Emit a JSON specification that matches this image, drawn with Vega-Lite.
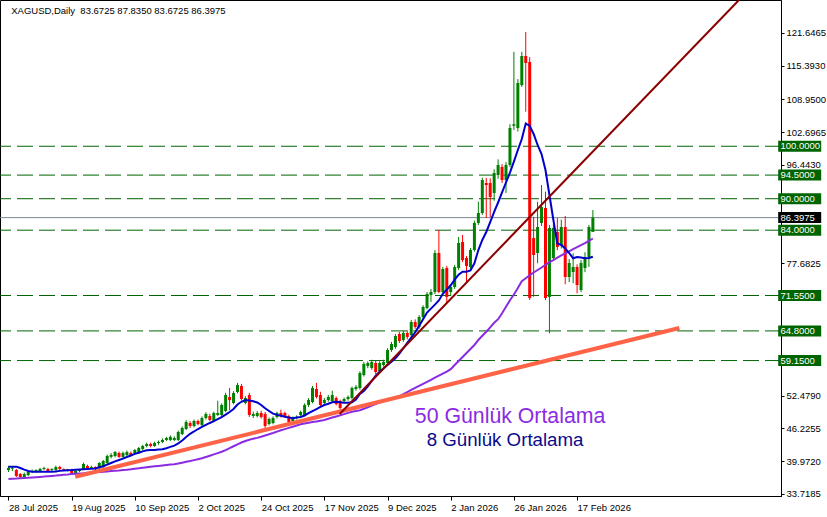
{
  "$schema": "https://vega.github.io/schema/vega-lite/v6.json",
  "width": 781,
  "height": 496,
  "autosize": "none",
  "padding": {"left": 0, "top": 0, "right": 46, "bottom": 21},
  "background": "white",
  "config": {"view": {"stroke": "#000", "strokeWidth": 1}, "font": "Liberation Sans"},
  "datasets": {
    "bars": [
      {"i":0,"o":38.29,"h":39.05,"l":37.91,"c":38.67,"m8":38.92,"m50":36.59},
      {"i":1,"o":38.48,"h":38.86,"l":38.10,"c":38.60,"m8":38.92,"m50":36.63},
      {"i":2,"o":38.29,"h":38.48,"l":36.95,"c":37.14,"m8":38.92,"m50":36.67},
      {"i":3,"o":37.52,"h":37.71,"l":36.57,"c":36.95,"m8":38.67,"m50":36.73},
      {"i":4,"o":36.95,"h":37.80,"l":36.60,"c":37.52,"m8":38.35,"m50":36.76},
      {"i":5,"o":37.33,"h":38.10,"l":37.10,"c":37.91,"m8":38.10,"m50":36.80},
      {"i":6,"o":37.91,"h":38.40,"l":37.70,"c":38.10,"m8":37.97,"m50":36.86},
      {"i":7,"o":38.05,"h":38.40,"l":37.80,"c":38.25,"m8":37.97,"m50":36.92},
      {"i":8,"o":38.10,"h":38.70,"l":37.90,"c":38.48,"m8":37.97,"m50":36.97},
      {"i":9,"o":38.48,"h":38.90,"l":38.30,"c":38.67,"m8":37.97,"m50":37.03},
      {"i":10,"o":38.48,"h":38.70,"l":37.90,"c":38.10,"m8":37.97,"m50":37.11},
      {"i":11,"o":38.30,"h":38.60,"l":38.10,"c":38.50,"m8":37.97,"m50":37.16},
      {"i":12,"o":38.29,"h":39.10,"l":38.10,"c":38.86,"m8":38.02,"m50":37.22},
      {"i":13,"o":38.86,"h":39.10,"l":38.30,"c":38.48,"m8":38.12,"m50":37.30},
      {"i":14,"o":38.45,"h":38.60,"l":38.10,"c":38.25,"m8":38.19,"m50":37.39},
      {"i":15,"o":38.20,"h":38.50,"l":38.00,"c":38.40,"m8":38.25,"m50":37.45},
      {"i":16,"o":38.29,"h":38.50,"l":37.50,"c":37.71,"m8":38.29,"m50":37.53},
      {"i":17,"o":37.52,"h":38.30,"l":37.30,"c":38.10,"m8":38.35,"m50":37.58},
      {"i":18,"o":38.10,"h":38.40,"l":37.90,"c":38.30,"m8":38.40,"m50":37.64},
      {"i":19,"o":38.48,"h":39.70,"l":38.30,"c":39.43,"m8":38.44,"m50":37.68},
      {"i":20,"o":39.05,"h":39.30,"l":38.50,"c":38.67,"m8":38.48,"m50":37.74},
      {"i":21,"o":38.67,"h":39.10,"l":38.50,"c":38.86,"m8":38.52,"m50":37.79},
      {"i":22,"o":38.86,"h":39.00,"l":38.30,"c":38.48,"m8":38.59,"m50":37.85},
      {"i":23,"o":38.67,"h":39.80,"l":38.50,"c":39.62,"m8":38.80,"m50":37.91},
      {"i":24,"o":38.86,"h":40.20,"l":38.70,"c":40.00,"m8":39.00,"m50":37.94},
      {"i":25,"o":39.62,"h":41.20,"l":39.40,"c":40.96,"m8":39.30,"m50":38.02},
      {"i":26,"o":40.80,"h":41.50,"l":40.50,"c":41.15,"m8":39.62,"m50":38.08},
      {"i":27,"o":40.96,"h":41.90,"l":40.70,"c":41.72,"m8":39.93,"m50":38.15},
      {"i":28,"o":41.53,"h":41.80,"l":40.60,"c":40.77,"m8":40.19,"m50":38.21},
      {"i":29,"o":40.77,"h":41.80,"l":40.50,"c":41.53,"m8":40.46,"m50":38.29},
      {"i":30,"o":41.15,"h":42.00,"l":40.90,"c":41.72,"m8":40.77,"m50":38.34},
      {"i":31,"o":41.53,"h":41.80,"l":40.90,"c":41.15,"m8":41.05,"m50":38.42},
      {"i":32,"o":41.53,"h":42.30,"l":41.30,"c":42.10,"m8":41.36,"m50":38.52},
      {"i":33,"o":41.72,"h":42.70,"l":41.50,"c":42.48,"m8":41.59,"m50":38.61},
      {"i":34,"o":42.29,"h":43.10,"l":42.00,"c":42.86,"m8":41.83,"m50":38.73},
      {"i":35,"o":42.86,"h":43.50,"l":42.60,"c":43.24,"m8":42.04,"m50":38.82},
      {"i":36,"o":43.24,"h":43.50,"l":42.60,"c":42.86,"m8":42.10,"m50":38.92},
      {"i":37,"o":42.86,"h":43.70,"l":42.70,"c":43.43,"m8":42.12,"m50":38.99},
      {"i":38,"o":43.43,"h":43.90,"l":43.10,"c":43.63,"m8":42.18,"m50":39.07},
      {"i":39,"o":43.63,"h":44.30,"l":43.40,"c":44.01,"m8":42.23,"m50":39.15},
      {"i":40,"o":44.01,"h":44.60,"l":43.80,"c":44.39,"m8":42.44,"m50":39.24},
      {"i":41,"o":44.00,"h":44.90,"l":43.80,"c":44.60,"m8":42.69,"m50":39.32},
      {"i":42,"o":44.00,"h":44.70,"l":43.80,"c":44.39,"m8":42.94,"m50":39.39},
      {"i":43,"o":44.01,"h":45.80,"l":43.80,"c":45.53,"m8":43.34,"m50":39.51},
      {"i":44,"o":45.15,"h":46.60,"l":44.90,"c":46.29,"m8":43.91,"m50":39.68},
      {"i":45,"o":46.10,"h":47.80,"l":45.90,"c":47.44,"m8":44.58,"m50":39.85},
      {"i":46,"o":47.25,"h":47.60,"l":46.30,"c":46.67,"m8":45.19,"m50":40.00},
      {"i":47,"o":46.67,"h":47.90,"l":46.40,"c":47.63,"m8":45.63,"m50":40.17},
      {"i":48,"o":47.63,"h":47.90,"l":46.80,"c":47.06,"m8":46.10,"m50":40.35},
      {"i":49,"o":46.87,"h":48.50,"l":46.60,"c":48.20,"m8":46.49,"m50":40.52},
      {"i":50,"o":48.20,"h":49.30,"l":47.90,"c":48.96,"m8":46.87,"m50":40.77},
      {"i":51,"o":48.58,"h":49.00,"l":47.60,"c":47.82,"m8":47.25,"m50":41.01},
      {"i":52,"o":47.63,"h":49.40,"l":47.40,"c":49.15,"m8":47.59,"m50":41.26},
      {"i":53,"o":48.77,"h":51.50,"l":48.60,"c":49.15,"m8":47.97,"m50":41.51},
      {"i":54,"o":48.77,"h":51.00,"l":48.50,"c":50.68,"m8":48.35,"m50":41.76},
      {"i":55,"o":49.53,"h":53.00,"l":49.30,"c":52.58,"m8":48.83,"m50":42.08},
      {"i":56,"o":52.20,"h":53.92,"l":49.70,"c":51.60,"m8":49.34,"m50":42.44},
      {"i":57,"o":51.06,"h":53.30,"l":50.80,"c":52.96,"m8":49.91,"m50":42.81},
      {"i":58,"o":53.16,"h":54.90,"l":52.90,"c":54.49,"m8":50.77,"m50":43.17},
      {"i":59,"o":54.30,"h":54.70,"l":51.50,"c":51.82,"m8":51.29,"m50":43.53},
      {"i":60,"o":51.06,"h":52.40,"l":50.80,"c":52.01,"m8":51.63,"m50":43.82},
      {"i":61,"o":52.58,"h":53.00,"l":48.40,"c":48.77,"m8":51.52,"m50":44.04},
      {"i":62,"o":48.58,"h":49.40,"l":48.20,"c":48.96,"m8":51.38,"m50":44.26},
      {"i":63,"o":48.58,"h":49.50,"l":48.30,"c":49.15,"m8":51.15,"m50":44.41},
      {"i":64,"o":49.15,"h":49.60,"l":48.10,"c":48.39,"m8":50.68,"m50":44.62},
      {"i":65,"o":48.96,"h":49.34,"l":46.29,"c":46.67,"m8":50.05,"m50":44.87},
      {"i":66,"o":47.06,"h":48.30,"l":46.80,"c":48.01,"m8":49.53,"m50":45.09},
      {"i":67,"o":47.25,"h":48.50,"l":47.00,"c":48.20,"m8":49.02,"m50":45.34},
      {"i":68,"o":48.39,"h":49.40,"l":48.10,"c":49.15,"m8":48.79,"m50":45.61},
      {"i":69,"o":49.15,"h":49.80,"l":48.30,"c":48.58,"m8":48.62,"m50":45.86},
      {"i":70,"o":49.15,"h":49.40,"l":48.30,"c":48.58,"m8":48.43,"m50":46.08},
      {"i":71,"o":48.58,"h":48.80,"l":47.20,"c":47.44,"m8":48.27,"m50":46.31},
      {"i":72,"o":47.63,"h":48.50,"l":47.30,"c":48.20,"m8":48.16,"m50":46.54},
      {"i":73,"o":48.20,"h":48.70,"l":47.90,"c":48.39,"m8":48.29,"m50":46.77},
      {"i":74,"o":48.77,"h":49.60,"l":48.50,"c":49.34,"m8":48.39,"m50":47.00},
      {"i":75,"o":48.77,"h":51.00,"l":48.50,"c":50.68,"m8":48.68,"m50":47.15},
      {"i":76,"o":50.68,"h":52.00,"l":50.30,"c":51.63,"m8":49.11,"m50":47.29},
      {"i":77,"o":51.25,"h":54.30,"l":51.00,"c":53.92,"m8":49.53,"m50":47.42},
      {"i":78,"o":53.73,"h":54.90,"l":51.90,"c":52.20,"m8":49.91,"m50":47.55},
      {"i":79,"o":52.58,"h":53.20,"l":50.30,"c":50.68,"m8":50.30,"m50":47.69},
      {"i":80,"o":51.06,"h":52.00,"l":50.80,"c":51.63,"m8":50.68,"m50":47.82},
      {"i":81,"o":51.63,"h":52.60,"l":51.30,"c":52.20,"m8":50.92,"m50":48.05},
      {"i":82,"o":51.44,"h":53.40,"l":51.20,"c":52.58,"m8":51.21,"m50":48.28},
      {"i":83,"o":52.01,"h":52.30,"l":50.60,"c":50.87,"m8":51.29,"m50":48.50},
      {"i":84,"o":51.44,"h":51.70,"l":49.80,"c":50.11,"m8":51.19,"m50":48.71},
      {"i":85,"o":51.44,"h":52.10,"l":51.10,"c":51.82,"m8":51.12,"m50":48.94},
      {"i":86,"o":51.82,"h":52.50,"l":51.50,"c":52.20,"m8":51.12,"m50":49.17},
      {"i":87,"o":52.01,"h":54.20,"l":51.70,"c":53.92,"m8":51.21,"m50":49.38},
      {"i":88,"o":53.73,"h":54.50,"l":53.40,"c":54.11,"m8":51.73,"m50":49.53},
      {"i":89,"o":53.92,"h":57.10,"l":53.60,"c":56.78,"m8":52.77,"m50":49.69},
      {"i":90,"o":56.40,"h":58.90,"l":56.10,"c":58.49,"m8":53.35,"m50":49.95},
      {"i":91,"o":58.11,"h":59.00,"l":57.70,"c":58.68,"m8":54.24,"m50":50.24},
      {"i":92,"o":57.73,"h":59.30,"l":57.40,"c":58.87,"m8":55.25,"m50":50.55},
      {"i":93,"o":58.68,"h":59.10,"l":56.60,"c":56.97,"m8":56.26,"m50":50.85},
      {"i":94,"o":57.16,"h":59.00,"l":56.90,"c":58.68,"m8":57.03,"m50":51.14},
      {"i":95,"o":58.30,"h":59.30,"l":58.00,"c":58.87,"m8":57.67,"m50":51.42},
      {"i":96,"o":58.68,"h":61.50,"l":58.40,"c":61.16,"m8":58.30,"m50":51.69},
      {"i":97,"o":61.16,"h":62.70,"l":60.80,"c":62.31,"m8":58.93,"m50":51.92},
      {"i":98,"o":61.73,"h":64.20,"l":61.40,"c":63.83,"m8":59.56,"m50":52.15},
      {"i":99,"o":64.21,"h":64.60,"l":62.50,"c":62.88,"m8":60.48,"m50":52.34},
      {"i":100,"o":63.07,"h":64.80,"l":62.70,"c":64.40,"m8":61.50,"m50":52.74},
      {"i":101,"o":64.40,"h":64.90,"l":63.20,"c":63.64,"m8":62.52,"m50":53.14},
      {"i":102,"o":64.02,"h":66.90,"l":63.70,"c":66.50,"m8":63.53,"m50":53.54},
      {"i":103,"o":66.50,"h":67.00,"l":65.20,"c":65.55,"m8":64.54,"m50":53.94},
      {"i":104,"o":65.55,"h":67.80,"l":65.20,"c":67.45,"m8":65.76,"m50":54.34},
      {"i":105,"o":67.45,"h":69.70,"l":67.10,"c":69.36,"m8":67.02,"m50":54.72},
      {"i":106,"o":69.17,"h":72.20,"l":68.90,"c":71.84,"m8":68.29,"m50":55.10},
      {"i":107,"o":71.65,"h":72.80,"l":70.30,"c":72.22,"m8":69.05,"m50":55.48},
      {"i":108,"o":72.22,"h":80.20,"l":71.80,"c":79.65,"m8":69.82,"m50":55.88},
      {"i":109,"o":79.65,"h":84.04,"l":72.00,"c":72.22,"m8":70.60,"m50":56.26},
      {"i":110,"o":72.22,"h":77.00,"l":71.50,"c":76.60,"m8":71.88,"m50":56.66},
      {"i":111,"o":76.79,"h":77.20,"l":70.06,"c":71.27,"m8":72.68,"m50":57.04},
      {"i":112,"o":72.22,"h":73.60,"l":71.60,"c":73.17,"m8":73.50,"m50":57.52},
      {"i":113,"o":73.17,"h":77.40,"l":72.80,"c":76.98,"m8":74.56,"m50":58.30},
      {"i":114,"o":76.79,"h":82.70,"l":76.40,"c":81.56,"m8":75.52,"m50":59.07},
      {"i":115,"o":81.75,"h":83.08,"l":77.90,"c":78.32,"m8":76.09,"m50":59.83},
      {"i":116,"o":78.70,"h":79.10,"l":73.90,"c":77.18,"m8":76.09,"m50":60.59},
      {"i":117,"o":76.98,"h":80.60,"l":76.60,"c":80.22,"m8":76.32,"m50":61.35},
      {"i":118,"o":80.22,"h":85.80,"l":79.90,"c":85.37,"m8":77.69,"m50":62.12},
      {"i":119,"o":85.37,"h":89.43,"l":85.00,"c":87.28,"m8":80.22,"m50":63.07},
      {"i":120,"o":87.28,"h":94.00,"l":86.90,"c":93.57,"m8":82.13,"m50":63.87},
      {"i":121,"o":93.00,"h":93.95,"l":86.33,"c":92.60,"m8":83.66,"m50":64.65},
      {"i":122,"o":93.00,"h":93.90,"l":86.50,"c":90.33,"m8":85.56,"m50":65.47},
      {"i":123,"o":91.09,"h":95.60,"l":89.60,"c":94.90,"m8":87.47,"m50":66.35},
      {"i":124,"o":94.52,"h":97.50,"l":93.80,"c":96.43,"m8":89.28,"m50":67.03},
      {"i":125,"o":96.05,"h":96.60,"l":93.00,"c":93.57,"m8":91.19,"m50":68.18},
      {"i":126,"o":93.57,"h":97.00,"l":91.10,"c":96.43,"m8":93.09,"m50":69.40},
      {"i":127,"o":96.43,"h":104.20,"l":96.00,"c":103.48,"m8":94.99,"m50":70.66},
      {"i":128,"o":103.90,"h":118.00,"l":103.10,"c":104.20,"m8":97.08,"m50":71.74},
      {"i":129,"o":103.48,"h":112.80,"l":102.80,"c":112.06,"m8":99.29,"m50":72.98},
      {"i":130,"o":111.68,"h":118.00,"l":111.30,"c":117.21,"m8":101.38,"m50":74.28},
      {"i":131,"o":117.21,"h":121.78,"l":106.59,"c":115.87,"m8":104.34,"m50":74.83},
      {"i":132,"o":116.06,"h":117.00,"l":70.69,"c":71.08,"m8":103.86,"m50":75.40},
      {"i":133,"o":82.51,"h":86.57,"l":71.32,"c":79.27,"m8":102.34,"m50":75.94},
      {"i":134,"o":79.65,"h":89.43,"l":77.69,"c":84.61,"m8":100.24,"m50":76.41},
      {"i":135,"o":85.37,"h":92.60,"l":84.80,"c":88.42,"m8":98.52,"m50":76.89},
      {"i":136,"o":88.23,"h":91.34,"l":70.69,"c":71.08,"m8":95.47,"m50":77.40},
      {"i":137,"o":71.27,"h":85.00,"l":64.35,"c":84.42,"m8":90.71,"m50":77.90},
      {"i":138,"o":78.70,"h":85.10,"l":78.20,"c":84.42,"m8":85.94,"m50":78.30},
      {"i":139,"o":83.66,"h":86.30,"l":80.20,"c":80.80,"m8":81.46,"m50":78.78},
      {"i":140,"o":81.18,"h":86.00,"l":80.50,"c":84.61,"m8":81.18,"m50":79.18},
      {"i":141,"o":84.61,"h":86.70,"l":73.70,"c":75.08,"m8":80.51,"m50":79.58},
      {"i":142,"o":75.08,"h":78.50,"l":74.10,"c":77.75,"m8":79.65,"m50":79.98},
      {"i":143,"o":76.03,"h":79.60,"l":73.90,"c":76.98,"m8":78.64,"m50":80.38},
      {"i":144,"o":76.98,"h":77.50,"l":71.97,"c":73.55,"m8":78.89,"m50":80.76},
      {"i":145,"o":72.60,"h":78.30,"l":72.20,"c":77.75,"m8":78.80,"m50":81.16},
      {"i":146,"o":76.79,"h":79.80,"l":76.00,"c":78.89,"m8":78.64,"m50":81.52},
      {"i":147,"o":78.89,"h":85.00,"l":77.00,"c":84.61,"m8":78.70,"m50":81.96},
      {"i":148,"o":83.6725,"h":87.835,"l":83.6725,"c":86.3975,"m8":78.95,"m50":82.42}
    ],
    "levels": [{"v":100},{"v":94.5},{"v":90},{"v":84},{"v":71.55},{"v":64.8},{"v":59.15}],
    "last": [{"v":86.3975}],
    "orange": [{"i":16.9,"p":37.01},{"i":169.9,"p":65.36}],
    "brown": [{"i":83.9,"p":48.96},{"i":185.0,"p":127.88}],
    "notes": [{"t":"50 Günlük Ortalama","i":102.9,"p":47.25},{"t":"8 Günlük Ortalama","i":105.9,"p":42.86}],
    "header": [{"t":"XAGUSD,Daily\u00a0 83.6725 87.8350 83.6725 86.3975","i":0.7,"p":125.21}]
  },
  "layer": [
    {
      "data": {"name": "levels"},
      "mark": {"type": "rule", "color": "#006400", "strokeWidth": 1, "strokeDash": [16, 6]},
      "encoding": {
        "y": {"field": "v", "type": "quantitative", "scale": {"domain": [33.33, 127.88], "nice": false, "zero": false},
              "axis": {"orient": "right", "values": [33.7185,39.972,46.2255,52.479,77.6825,96.443,102.6965,108.95,115.393,121.6465],
                       "format": ".4f", "labelFont": "Liberation Sans", "labelFontSize": 9.5, "labelColor": "#000",
                       "tickColor": "#000", "tickSize": 3, "domainColor": "#000", "grid": false, "title": null,
                       "labelPadding": 2, "labelFlush": false, "labelOverlap": false, "labelBound": false}}
      }
    },
    {
      "data": {"name": "last"},
      "mark": {"type": "rule", "color": "#778899", "strokeWidth": 1},
      "encoding": {
        "y": {"field": "v", "type": "quantitative", "scale": {"domain": [33.33, 127.88], "nice": false, "zero": false}}
      }
    },
    {
      "data": {"name": "bars"},
      "mark": {"type": "rule", "strokeWidth": 1},
      "encoding": {
        "x": {"field": "i", "type": "quantitative", "scale": {"domain": [-0.875, 194.375], "nice": false, "zero": false},
              "axis": {"orient": "bottom", "values": [0,16,32,48,64,80,96,112,128,144],
                       "labelExpr": "['28 Jul 2025','19 Aug 2025','10 Sep 2025','2 Oct 2025','24 Oct 2025','17 Nov 2025','9 Dec 2025','2 Jan 2026','26 Jan 2026','17 Feb 2026'][round(datum.value/16)]",
                       "labelAlign": "left", "labelFont": "Liberation Sans", "labelFontSize": 9.5, "labelColor": "#000",
                       "tickColor": "#000", "tickSize": 4, "domainColor": "#000", "grid": false, "title": null,
                       "labelPadding": 2, "labelFlush": false, "labelOverlap": false, "labelBound": false}},
        "y": {"field": "l", "type": "quantitative", "scale": {"domain": [33.33, 127.88], "nice": false, "zero": false}},
        "y2": {"field": "h"},
        "color": {"condition": {"test": "datum.c >= datum.o", "value": "#008000"}, "value": "#FF0000"}
      }
    },
    {
      "data": {"name": "bars"},
      "mark": {"type": "bar", "size": 3},
      "encoding": {
        "x": {"field": "i", "type": "quantitative", "scale": {"domain": [-0.875, 194.375], "nice": false, "zero": false}},
        "y": {"field": "o", "type": "quantitative", "scale": {"domain": [33.33, 127.88], "nice": false, "zero": false}},
        "y2": {"field": "c"},
        "color": {"condition": {"test": "datum.c >= datum.o", "value": "#008000"}, "value": "#FF0000"}
      }
    },
    {
      "data": {"name": "bars"},
      "mark": {"type": "line", "color": "#8A2BE2", "strokeWidth": 2},
      "encoding": {
        "x": {"field": "i", "type": "quantitative", "scale": {"domain": [-0.875, 194.375], "nice": false, "zero": false}},
        "y": {"field": "m50", "type": "quantitative", "scale": {"domain": [33.33, 127.88], "nice": false, "zero": false}}
      }
    },
    {
      "data": {"name": "orange"},
      "mark": {"type": "line", "color": "#FF6347", "strokeWidth": 4},
      "encoding": {
        "x": {"field": "i", "type": "quantitative", "scale": {"domain": [-0.875, 194.375], "nice": false, "zero": false}},
        "y": {"field": "p", "type": "quantitative", "scale": {"domain": [33.33, 127.88], "nice": false, "zero": false}}
      }
    },
    {
      "data": {"name": "bars"},
      "mark": {"type": "line", "color": "#0000CD", "strokeWidth": 2},
      "encoding": {
        "x": {"field": "i", "type": "quantitative", "scale": {"domain": [-0.875, 194.375], "nice": false, "zero": false}},
        "y": {"field": "m8", "type": "quantitative", "scale": {"domain": [33.33, 127.88], "nice": false, "zero": false}}
      }
    },
    {
      "data": {"name": "brown"},
      "mark": {"type": "line", "color": "#8B0000", "strokeWidth": 2},
      "encoding": {
        "x": {"field": "i", "type": "quantitative", "scale": {"domain": [-0.875, 194.375], "nice": false, "zero": false}},
        "y": {"field": "p", "type": "quantitative", "scale": {"domain": [33.33, 127.88], "nice": false, "zero": false}}
      }
    },
    {
      "data": {"name": "levels"},
      "mark": {"type": "tick", "orient": "horizontal", "size": 43, "thickness": 11, "color": "#006400", "opacity": 1},
      "encoding": {
        "x": {"datum": 200.375, "type": "quantitative", "scale": {"domain": [-0.875, 194.375], "nice": false, "zero": false}},
        "y": {"field": "v", "type": "quantitative", "scale": {"domain": [33.33, 127.88], "nice": false, "zero": false}}
      }
    },
    {
      "data": {"name": "last"},
      "mark": {"type": "tick", "orient": "horizontal", "size": 43, "thickness": 11, "color": "#000000", "opacity": 1},
      "encoding": {
        "x": {"datum": 200.375, "type": "quantitative", "scale": {"domain": [-0.875, 194.375], "nice": false, "zero": false}},
        "y": {"field": "v", "type": "quantitative", "scale": {"domain": [33.33, 127.88], "nice": false, "zero": false}}
      }
    },
    {
      "data": {"name": "levels"},
      "mark": {"type": "text", "align": "left", "baseline": "middle", "font": "Liberation Sans", "fontSize": 9.5, "color": "#FFFFFF"},
      "encoding": {
        "x": {"datum": 195.5, "type": "quantitative", "scale": {"domain": [-0.875, 194.375], "nice": false, "zero": false}},
        "y": {"field": "v", "type": "quantitative", "scale": {"domain": [33.33, 127.88], "nice": false, "zero": false}},
        "text": {"field": "v", "type": "quantitative", "format": ".4f"}
      }
    },
    {
      "data": {"name": "last"},
      "mark": {"type": "text", "align": "left", "baseline": "middle", "font": "Liberation Sans", "fontSize": 9.5, "color": "#FFFFFF"},
      "encoding": {
        "x": {"datum": 195.5, "type": "quantitative", "scale": {"domain": [-0.875, 194.375], "nice": false, "zero": false}},
        "y": {"field": "v", "type": "quantitative", "scale": {"domain": [33.33, 127.88], "nice": false, "zero": false}},
        "text": {"field": "v", "type": "quantitative", "format": ".4f"}
      }
    },
    {
      "data": {"name": "notes"},
      "mark": {"type": "text", "align": "left", "baseline": "alphabetic", "font": "Liberation Sans"},
      "encoding": {
        "x": {"field": "i", "type": "quantitative", "scale": {"domain": [-0.875, 194.375], "nice": false, "zero": false}},
        "y": {"field": "p", "type": "quantitative", "scale": {"domain": [33.33, 127.88], "nice": false, "zero": false}},
        "text": {"field": "t"},
        "size": {"field": "t", "type": "ordinal", "scale": {"domain": ["50 Günlük Ortalama", "8 Günlük Ortalama"], "range": [21.3, 18.7]}, "legend": null},
        "color": {"field": "t", "type": "nominal", "scale": {"domain": ["50 Günlük Ortalama", "8 Günlük Ortalama"], "range": ["#8A2BE2", "#0A0A8C"]}, "legend": null}
      }
    },
    {
      "data": {"name": "header"},
      "mark": {"type": "text", "align": "left", "baseline": "alphabetic", "font": "Liberation Sans", "fontSize": 9.5, "color": "#000"},
      "encoding": {
        "x": {"field": "i", "type": "quantitative", "scale": {"domain": [-0.875, 194.375], "nice": false, "zero": false}},
        "y": {"field": "p", "type": "quantitative", "scale": {"domain": [33.33, 127.88], "nice": false, "zero": false}},
        "text": {"field": "t"}
      }
    }
  ]
}
